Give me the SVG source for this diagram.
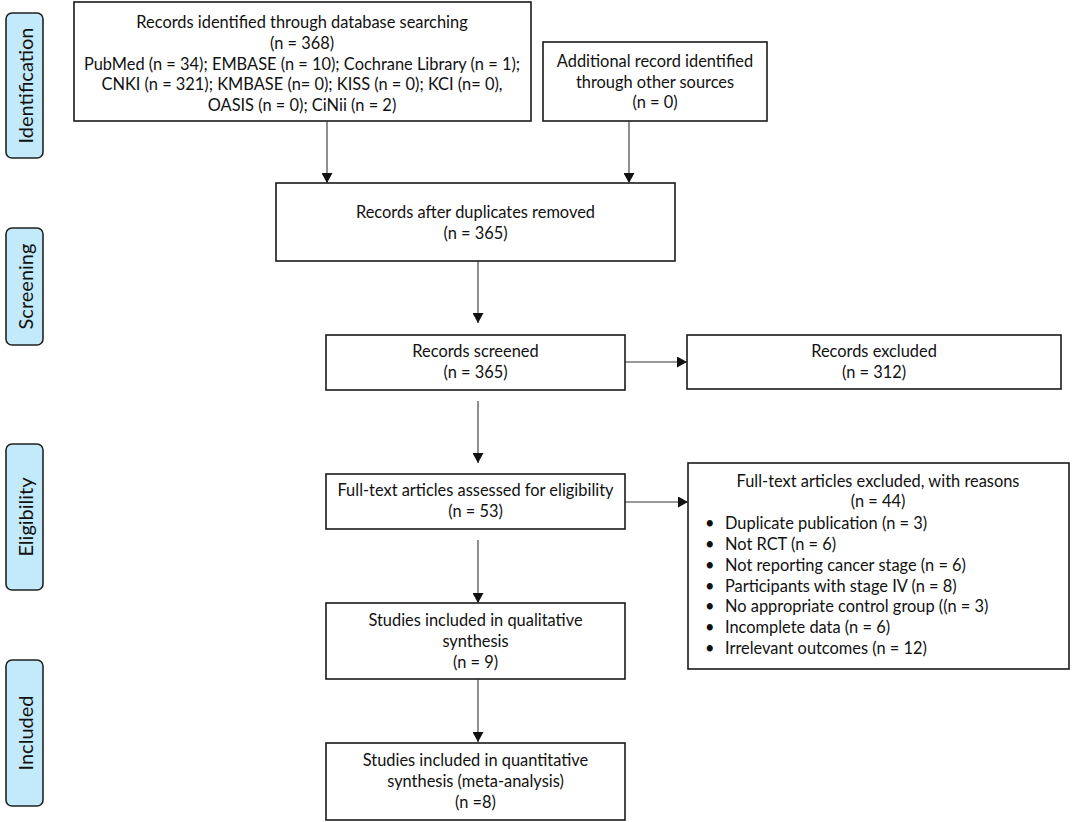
<svg xmlns="http://www.w3.org/2000/svg" width="1072" height="822" viewBox="0 0 1072 822">
<style>
  .box { fill: #ffffff; stroke: #1a1a1a; stroke-width: 1.6; }
  .phase { fill: #c3eafa; stroke: #222222; stroke-width: 1.6; }
  .t { font-family: Lato, "Open Sans", sans-serif; font-size: 16.4px; fill: #111111; text-anchor: middle; }
  .tl { font-family: Lato, "Open Sans", sans-serif; font-size: 16.4px; fill: #111111; }
  .pt { font-family: Lato, "Open Sans", sans-serif; font-size: 20px; fill: #111111; text-anchor: middle; }
  .conn { stroke: #333333; stroke-width: 1.1; fill: none; marker-end: url(#ah); }
</style>
<defs>
  <marker id="ah" markerWidth="11" markerHeight="11" refX="10" refY="5.5" orient="auto" markerUnits="userSpaceOnUse">
    <path d="M0,0 L10,5.5 L0,11 Z" fill="#111111"/>
  </marker>
</defs>
<rect width="1072" height="822" fill="#ffffff"/>

<g id="phase-identification">
  <rect class="phase" x="6" y="13" width="37" height="145" rx="6"/>
  <text class="pt" transform="translate(33,85.5) rotate(-90)">Identification</text>
</g>
<g id="phase-screening">
  <rect class="phase" x="6" y="228" width="37" height="117" rx="6"/>
  <text class="pt" transform="translate(33,286.5) rotate(-90)">Screening</text>
</g>
<g id="phase-eligibility">
  <rect class="phase" x="6" y="444" width="37" height="146" rx="6"/>
  <text class="pt" transform="translate(33,517) rotate(-90)">Eligibility</text>
</g>
<g id="phase-included">
  <rect class="phase" x="6" y="660" width="37" height="146" rx="6"/>
  <text class="pt" transform="translate(33,733) rotate(-90)">Included</text>
</g>

<g id="node-database">
  <rect class="box" x="74" y="2" width="457" height="119"/>
  <text class="t" x="302" y="28">Records identified through database searching</text>
  <text class="t" x="302" y="49">(n = 368)</text>
  <text class="t" x="302" y="70">PubMed (n = 34); EMBASE (n = 10); Cochrane Library (n = 1);</text>
  <text class="t" x="302" y="90">CNKI (n = 321); KMBASE (n= 0); KISS (n = 0); KCI (n= 0),</text>
  <text class="t" x="302" y="111">OASIS (n = 0); CiNii (n = 2)</text>
</g>
<g id="node-other">
  <rect class="box" x="543" y="42" width="224" height="79"/>
  <text class="t" x="655" y="67">Additional record identified</text>
  <text class="t" x="655" y="88">through other sources</text>
  <text class="t" x="655" y="108">(n = 0)</text>
</g>
<g id="node-dedup">
  <rect class="box" x="276" y="183" width="399" height="78"/>
  <text class="t" x="475.5" y="218">Records after duplicates removed</text>
  <text class="t" x="475.5" y="239">(n = 365)</text>
</g>
<g id="node-screened">
  <rect class="box" x="326" y="335" width="299" height="55"/>
  <text class="t" x="475.5" y="357">Records screened</text>
  <text class="t" x="475.5" y="378">(n = 365)</text>
</g>
<g id="node-excluded">
  <rect class="box" x="687" y="335" width="374" height="54"/>
  <text class="t" x="874" y="357">Records excluded</text>
  <text class="t" x="874" y="378">(n = 312)</text>
</g>
<g id="node-fulltext">
  <rect class="box" x="326" y="474" width="299" height="55"/>
  <text class="t" x="475.5" y="496">Full-text articles assessed for eligibility</text>
  <text class="t" x="475.5" y="517">(n = 53)</text>
</g>
<g id="node-reasons">
  <rect class="box" x="688" y="463" width="381" height="206"/>
  <text class="t" x="878" y="487">Full-text articles excluded, with reasons</text>
  <text class="t" x="878" y="507">(n = 44)</text>
  <g class="tl">
    <text x="705" y="529">•</text><text x="725" y="529">Duplicate publication (n = 3)</text>
    <text x="705" y="550">•</text><text x="725" y="550">Not RCT (n = 6)</text>
    <text x="705" y="571">•</text><text x="725" y="571">Not reporting cancer stage (n = 6)</text>
    <text x="705" y="592">•</text><text x="725" y="592">Participants with stage IV (n = 8)</text>
    <text x="705" y="612">•</text><text x="725" y="612">No appropriate control group ((n = 3)</text>
    <text x="705" y="633">•</text><text x="725" y="633">Incomplete data (n = 6)</text>
    <text x="705" y="654">•</text><text x="725" y="654">Irrelevant outcomes (n = 12)</text>
  </g>
</g>
<g id="node-qualitative">
  <rect class="box" x="326" y="603" width="299" height="76"/>
  <text class="t" x="475.5" y="626">Studies included in qualitative</text>
  <text class="t" x="475.5" y="647">synthesis</text>
  <text class="t" x="475.5" y="668">(n = 9)</text>
</g>
<g id="node-quantitative">
  <rect class="box" x="326" y="743" width="299" height="77"/>
  <text class="t" x="475.5" y="766">Studies included in quantitative</text>
  <text class="t" x="475.5" y="787">synthesis (meta-analysis)</text>
  <text class="t" x="475.5" y="808">(n =8)</text>
</g>

<g id="connectors">
  <line class="conn" x1="327" y1="121" x2="327" y2="183"/>
  <line class="conn" x1="629" y1="121" x2="629" y2="183"/>
  <line class="conn" x1="478" y1="261" x2="478" y2="323"/>
  <line class="conn" x1="625" y1="362" x2="687" y2="362"/>
  <line class="conn" x1="478" y1="401" x2="478" y2="463"/>
  <line class="conn" x1="625" y1="502" x2="688" y2="502"/>
  <line class="conn" x1="478" y1="540" x2="478" y2="603"/>
  <line class="conn" x1="478" y1="679" x2="478" y2="742"/>
</g>
</svg>
